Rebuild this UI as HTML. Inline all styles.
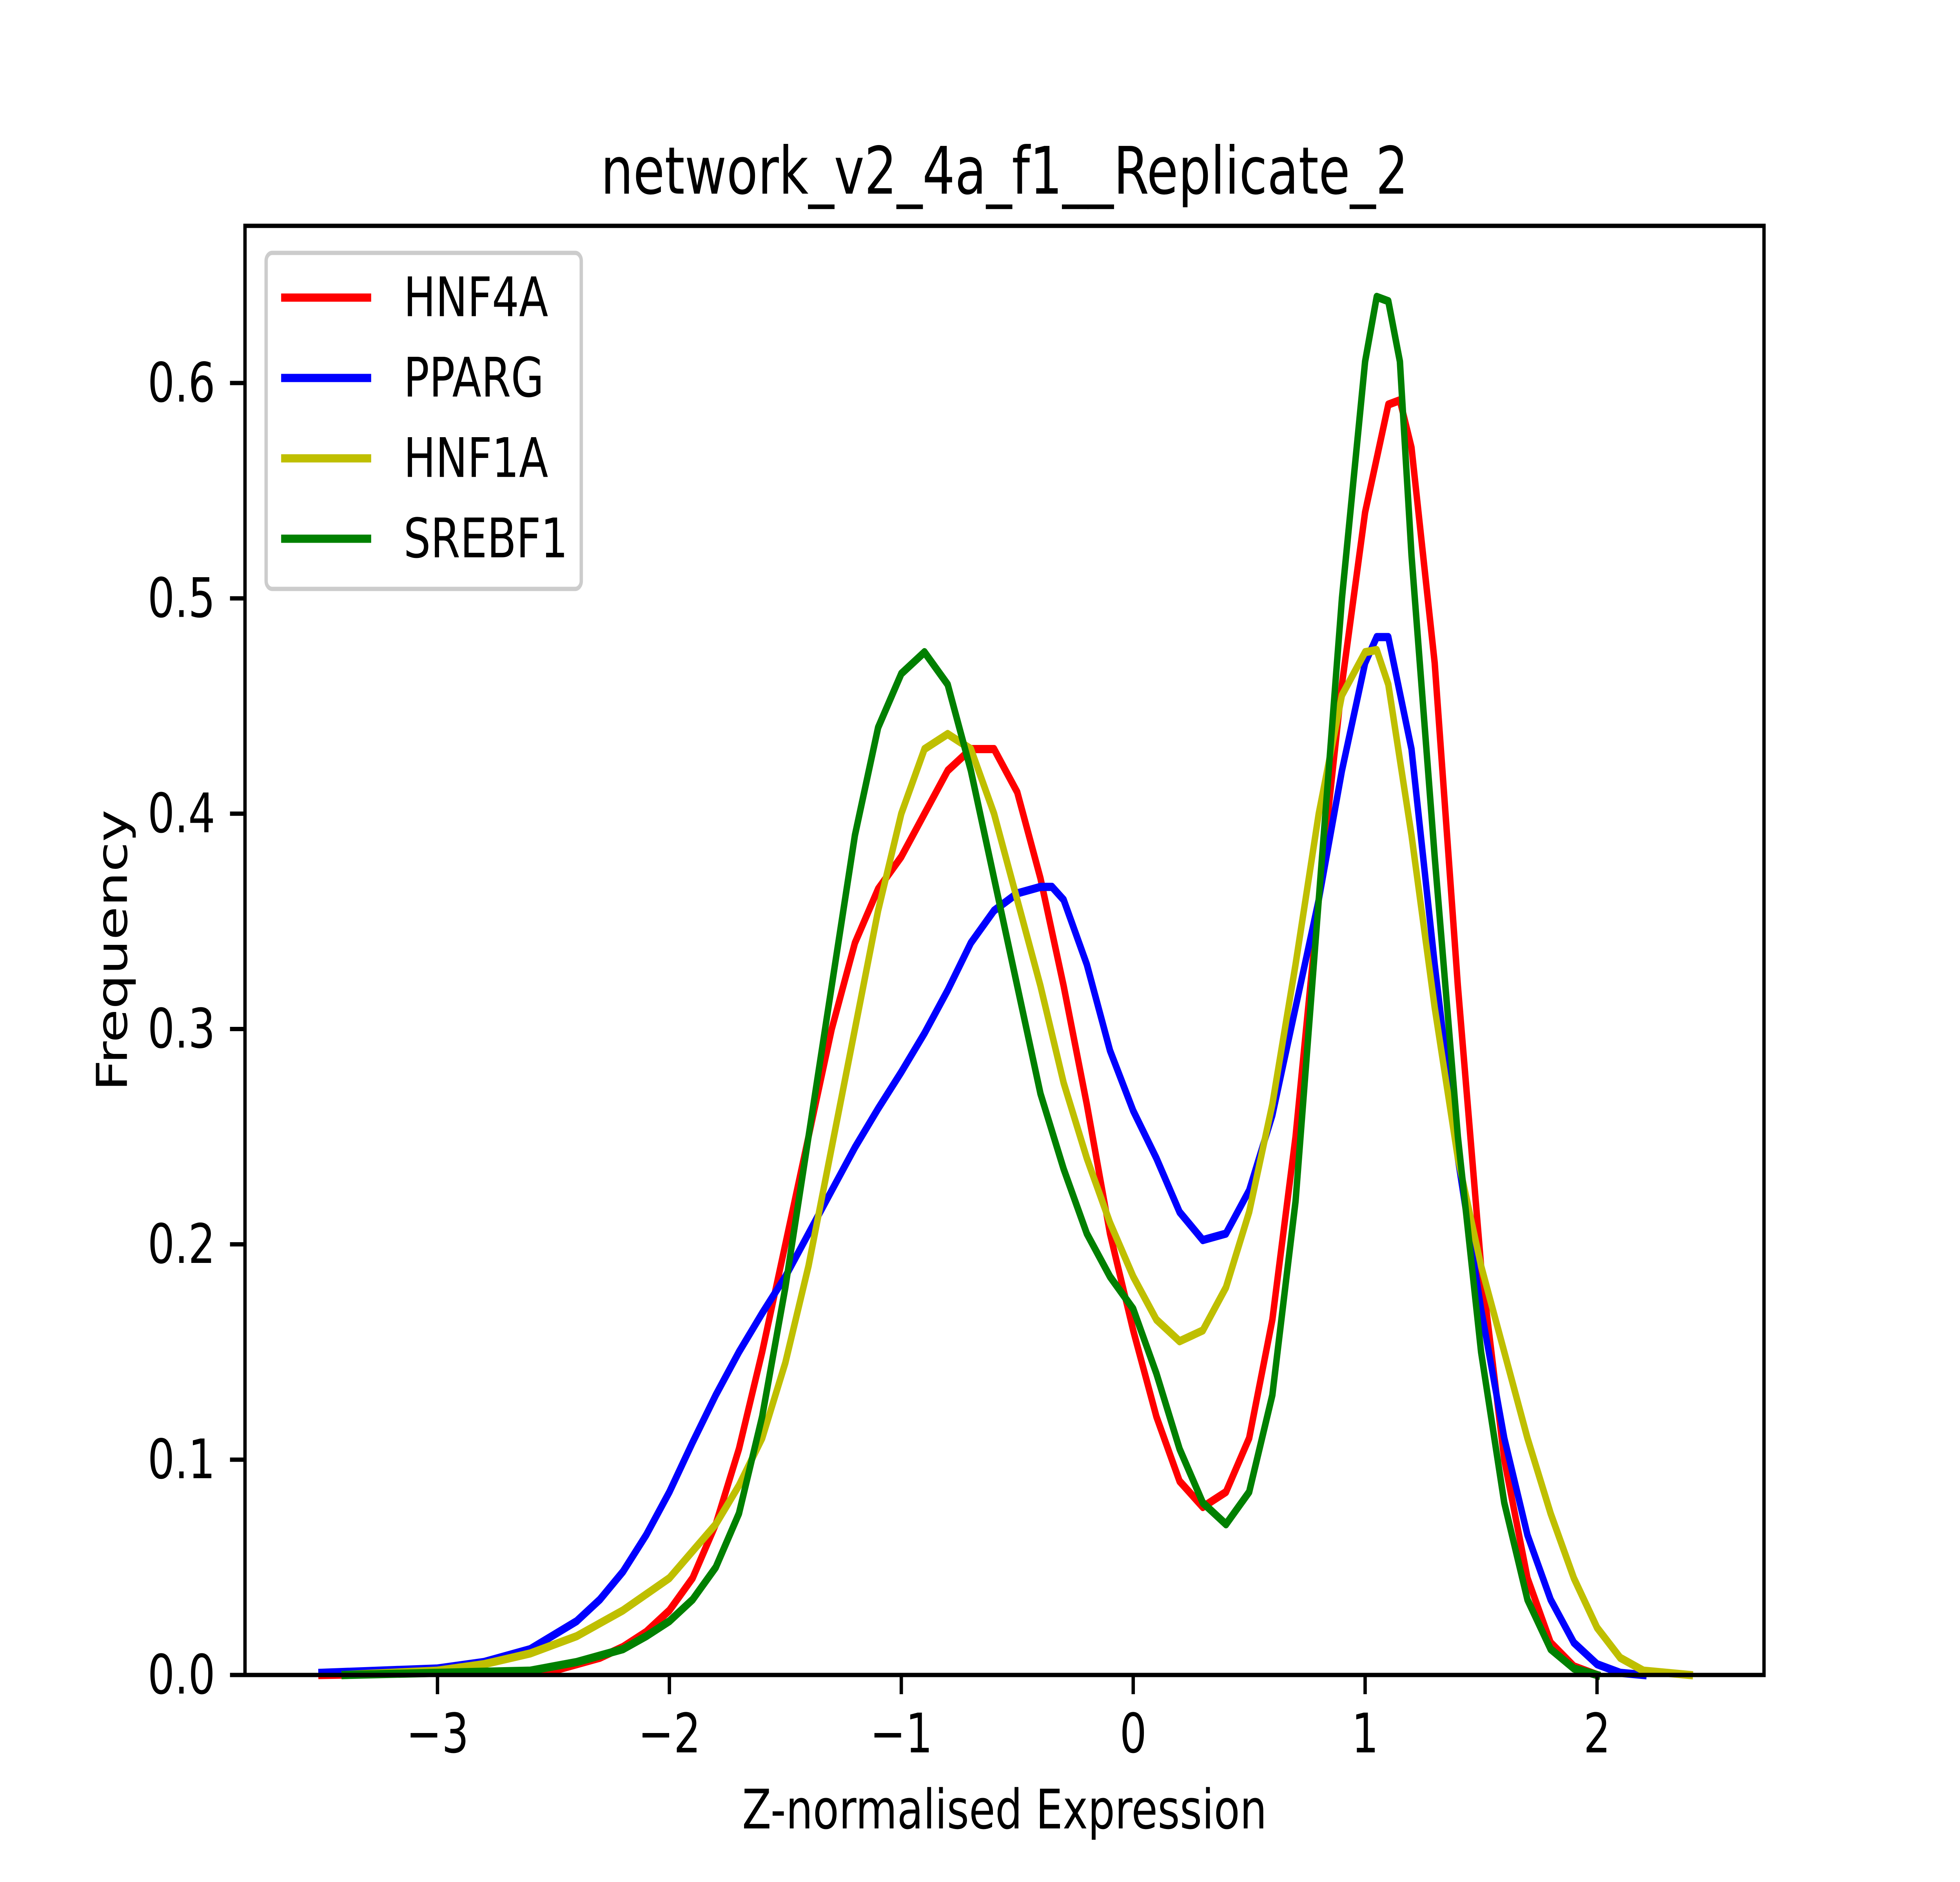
<!DOCTYPE html>
<html><head><meta charset="utf-8"><style>
html,body{margin:0;padding:0;background:#fff;width:100%;height:100%;overflow:hidden}
svg{display:block;width:100vw;height:100vh}
text{font-family:"DejaVu Sans","Liberation Sans",sans-serif;fill:#000}
</style></head><body>
<svg id="chart" viewBox="0 0 6400 4800" preserveAspectRatio="none" xmlns="http://www.w3.org/2000/svg">
<rect width="6400" height="4800" fill="#fff"/>
<text x="3280" y="437" font-size="167" text-anchor="middle" dominant-baseline="central">network_v2_4a_f1__Replicate_2</text>
<g id="plot"></g>
<g id="axes"></g>
<text x="3280" y="4616" font-size="139" text-anchor="middle" dominant-baseline="central">Z-normalised Expression</text>
<text x="367" y="2424" font-size="139" text-anchor="middle" dominant-baseline="central" transform="rotate(-90 367 2424)">Frequency</text>
<g id="legend"></g>
</svg>
<script>
const seriesNames = ["HNF4A","PPARG","HNF1A","SREBF1"];
const seriesColors = ["#ff0000","#0000ff","#bfbf00","#008000"];
const xTicks = [-3,-2,-1,0,1,2];
const xTickLabels = ["\u22123","\u22122","\u22121","0","1","2"];
const yTicks = [0,0.1,0.2,0.3,0.4,0.5,0.6];
const yTickLabels = ["0.0","0.1","0.2","0.3","0.4","0.5","0.6"];
const hnf4aX = [-3.5,-2.5,-2.3,-2.2,-2.1,-2.0,-1.9,-1.8,-1.7,-1.6,-1.5,-1.4,-1.3,-1.2,-1.1,-1.0,-0.9,-0.8,-0.7,-0.6,-0.5,-0.4,-0.3,-0.2,-0.1,0,0.1,0.2,0.3,0.4,0.5,0.6,0.7,0.8,0.9,1.0,1.1,1.15,1.2,1.3,1.4,1.5,1.6,1.7,1.8,1.9,2.0];
const hnf4aY = [0,0.002,0.008,0.013,0.02,0.03,0.045,0.07,0.105,0.15,0.2,0.25,0.3,0.34,0.365,0.38,0.4,0.42,0.43,0.43,0.41,0.37,0.32,0.265,0.205,0.16,0.12,0.09,0.078,0.085,0.11,0.165,0.25,0.36,0.46,0.54,0.59,0.592,0.57,0.47,0.32,0.19,0.1,0.045,0.015,0.004,0];
const ppargX = [-3.5,-3.0,-2.8,-2.6,-2.4,-2.3,-2.2,-2.1,-2.0,-1.9,-1.8,-1.7,-1.6,-1.5,-1.4,-1.3,-1.2,-1.1,-1.0,-0.9,-0.8,-0.7,-0.6,-0.5,-0.4,-0.35,-0.3,-0.2,-0.1,0,0.1,0.2,0.3,0.4,0.5,0.6,0.7,0.8,0.9,1.0,1.05,1.1,1.2,1.3,1.4,1.5,1.6,1.7,1.8,1.9,2.0,2.1,2.2];
const ppargY = [0.001,0.003,0.006,0.012,0.025,0.035,0.048,0.065,0.085,0.108,0.13,0.15,0.168,0.185,0.205,0.225,0.245,0.263,0.28,0.298,0.318,0.34,0.355,0.363,0.366,0.366,0.36,0.33,0.29,0.262,0.24,0.215,0.202,0.205,0.225,0.26,0.31,0.36,0.42,0.47,0.482,0.482,0.43,0.33,0.24,0.17,0.11,0.065,0.035,0.015,0.005,0.001,0];
const hnf1aX = [-3.4,-3.0,-2.8,-2.6,-2.4,-2.2,-2.0,-1.8,-1.7,-1.6,-1.5,-1.4,-1.3,-1.2,-1.1,-1.0,-0.9,-0.8,-0.7,-0.6,-0.5,-0.4,-0.3,-0.2,-0.1,0,0.1,0.2,0.3,0.4,0.5,0.6,0.7,0.8,0.9,1.0,1.05,1.1,1.2,1.3,1.4,1.5,1.6,1.7,1.8,1.9,2.0,2.1,2.2,2.4];
const hnf1aY = [0,0.002,0.005,0.01,0.018,0.03,0.045,0.07,0.088,0.11,0.145,0.19,0.245,0.3,0.355,0.4,0.43,0.437,0.43,0.4,0.36,0.32,0.275,0.24,0.21,0.185,0.165,0.155,0.16,0.18,0.215,0.265,0.33,0.4,0.455,0.475,0.476,0.46,0.39,0.31,0.24,0.19,0.15,0.11,0.075,0.045,0.022,0.008,0.002,0];
const srebf1X = [-3.4,-2.6,-2.4,-2.2,-2.1,-2.0,-1.9,-1.8,-1.7,-1.6,-1.5,-1.4,-1.3,-1.2,-1.1,-1.0,-0.9,-0.8,-0.7,-0.6,-0.5,-0.4,-0.3,-0.2,-0.1,0,0.1,0.2,0.3,0.4,0.5,0.6,0.7,0.8,0.9,1.0,1.05,1.1,1.15,1.2,1.3,1.4,1.5,1.6,1.7,1.8,1.9,2.0];
const srebf1Y = [0,0.002,0.006,0.012,0.018,0.025,0.035,0.05,0.075,0.12,0.18,0.25,0.32,0.39,0.44,0.465,0.475,0.46,0.42,0.37,0.32,0.27,0.235,0.205,0.185,0.17,0.14,0.105,0.08,0.07,0.085,0.13,0.22,0.36,0.5,0.61,0.64,0.638,0.61,0.52,0.38,0.25,0.15,0.08,0.035,0.012,0.003,0];
const seriesX = [hnf4aX, ppargX, hnf1aX, srebf1X];
const seriesY = [hnf4aY, ppargY, hnf1aY, srebf1Y];

const NS = "http://www.w3.org/2000/svg";
const L = 800, R = 5760, T = 576, B = 4272;
const xMin = -3.83, xMax = 2.72, yMin = 0, yMax = 0.673;
function sx(v){ return L + (v - xMin) / (xMax - xMin) * (R - L); }
function sy(v){ return B - (v - yMin) / (yMax - yMin) * (B - T); }
function mk(tag, attrs, parent){ const e = document.createElementNS(NS, tag); for (const k in attrs) e.setAttribute(k, attrs[k]); parent.appendChild(e); return e; }

const plot = document.getElementById('plot');
for (let s = 0; s < seriesNames.length; s++) {
  const d = seriesX[s].map((x, i) => (i ? 'L' : 'M') + sx(x).toFixed(1) + ' ' + sy(seriesY[s][i]).toFixed(1)).join(' ');
  const p = mk('path', {d: d, fill: 'none', stroke: seriesColors[s], 'stroke-width': 21, 'stroke-linejoin': 'round', 'stroke-linecap': 'square'}, plot);
  
  
}

const axes = document.getElementById('axes');
const frame = mk('rect', {x: L, y: T, width: R - L, height: B - T, fill: 'none', stroke: '#000', 'stroke-width': 11}, axes);


xTicks.forEach((v, i) => {
  const x = sx(v);
  const t = mk('line', {x1: x, x2: x, y1: B, y2: B + 49, stroke: '#000', 'stroke-width': 11}, axes);
  
  
  const lb = mk('text', {x: x, y: B + 150, 'font-size': 139, 'text-anchor': 'middle', 'dominant-baseline': 'central'}, axes);
  lb.textContent = xTickLabels[i];
  
  
});
yTicks.forEach((v, i) => {
  const y = sy(v);
  const t = mk('line', {x1: L - 49, x2: L, y1: y, y2: y, stroke: '#000', 'stroke-width': 11}, axes);
  
  
  const lb = mk('text', {x: L - 97, y: y, 'font-size': 139, 'text-anchor': 'end', 'dominant-baseline': 'central'}, axes);
  lb.textContent = yTickLabels[i];
  
  
});

const legend = document.getElementById('legend');
const box = mk('rect', {x: 869, y: 645, width: 1029, height: 857, rx: 20, fill: '#fff', 'fill-opacity': 0.8, stroke: '#ccc', 'stroke-width': 11}, legend);


seriesNames.forEach((n, i) => {
  const y = 759 + i * 205;
  const g = mk('g', {}, legend);
  
  
  mk('line', {x1: 918, x2: 1212, y1: y, y2: y, stroke: seriesColors[i], 'stroke-width': 21}, g);
  const t = mk('text', {x: 1318, y: y, 'font-size': 139, 'dominant-baseline': 'central'}, g);
  t.textContent = n;
});
</script>
</body></html>
